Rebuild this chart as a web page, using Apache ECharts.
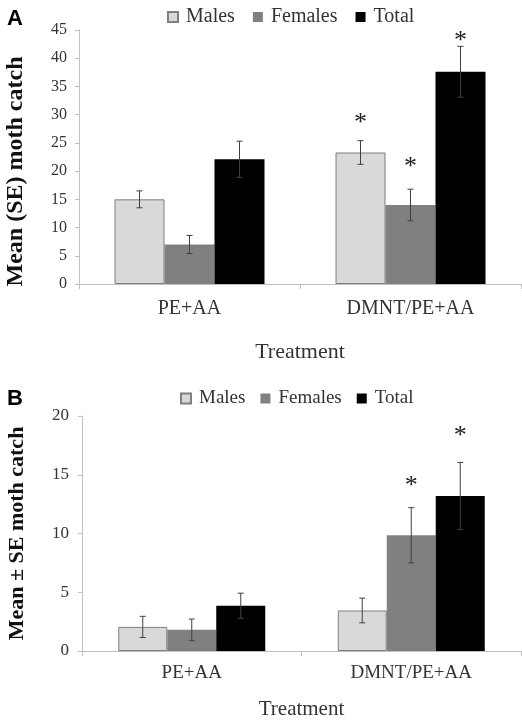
<!DOCTYPE html>
<html>
<head>
<meta charset="utf-8">
<script src="https://cdn.jsdelivr.net/npm/echarts@6/dist/echarts.min.js"></script>
<style>
html,body{margin:0;padding:0;background:#fff;}
#chart{width:522px;height:722px;}
</style>
</head>
<body>
<div id="chart"></div>
<script>
// ---- data ----
const categories = ['PE+AA', 'DMNT/PE+AA'];
const seriesNames = ['Males', 'Females', 'Total'];

// Panel A: Mean (SE) moth catch
const aMales = [15.0, 23.3];
const aMalesSE = [1.5, 2.1];
const aFemales = [7.0, 14.0];
const aFemalesSE = [1.6, 2.8];
const aTotal = [22.1, 37.6];
const aTotalSE = [3.2, 4.5];
// asterisk positions (value units), null = none
const aMalesStar = [null, 29.6];
const aFemalesStar = [null, 21.7];
const aTotalStar = [null, 44.1];
const aTicks = {min: 0, max: 45, interval: 5};

// Panel B: Mean ± SE moth catch
const bMales = [2.05, 3.45];
const bMalesSE = [0.9, 1.05];
const bFemales = [1.8, 9.85];
const bFemalesSE = [0.92, 2.35];
const bTotal = [3.85, 13.2];
const bTotalSE = [1.07, 2.85];
const bMalesStar = [null, null];
const bFemalesStar = [null, 14.5];
const bTotalStar = [null, 18.8];
const bTicks = {min: 0, max: 20, interval: 5};

// ---- styles ----
const colors = ['#d9d9d9', '#808080', '#000000'];
const borders = ['#7f7f7f', '#808080', '#000000'];
const serif = '"Liberation Serif", "Times New Roman", serif';
const axisGray = '#bfbfbf';
const textGray = '#333333';

function barSeries(name, idx, data, gi, bw) {
  return {
    name: name, type: 'bar', xAxisIndex: gi, yAxisIndex: gi,
    data: data, barWidth: bw, barGap: '0%',
    itemStyle: {color: colors[idx], borderColor: borders[idx], borderWidth: idx === 0 ? 1 : 0},
    emphasis: {disabled: true}, z: 2
  };
}

function errSeries(idx, vals, ses, stars, gi, bw) {
  const data = vals.map((v, i) => [i, v, ses[i], stars[i] == null ? -1 : stars[i]]);
  return {
    type: 'custom', xAxisIndex: gi, yAxisIndex: gi, z: 5, silent: true,
    encode: {x: 0, y: 1},
    data: data,
    renderItem: function (params, api) {
      const xi = api.value(0), v = api.value(1), se = api.value(2), st = api.value(3);
      const c = api.coord([xi, v]);
      const x = c[0] + (idx - 1) * bw;
      const top = api.coord([xi, v + se])[1];
      const bot = api.coord([xi, v - se])[1];
      const cap = 3;
      const style = {stroke: '#404040', lineWidth: 1};
      const children = [
        {type: 'line', shape: {x1: x, y1: top, x2: x, y2: bot}, style: style},
        {type: 'line', shape: {x1: x - cap, y1: top, x2: x + cap, y2: top}, style: style},
        {type: 'line', shape: {x1: x - cap, y1: bot, x2: x + cap, y2: bot}, style: style}
      ];
      if (st >= 0) {
        const sy = api.coord([xi, st])[1];
        children.push({type: 'text', x: x, y: sy + 6,
          style: {text: '*', fill: '#222', font: '26px ' + serif, align: 'center', verticalAlign: 'middle'}});
      }
      return {type: 'group', children: children};
    }
  };
}

function xAxis(gi, labelSize, labelMargin, nameSize, nameGap) {
  return {
    type: 'category', gridIndex: gi, data: categories,
    axisLine: {show: true, lineStyle: {color: axisGray, width: 1}},
    axisTick: {show: true, length: 5, lineStyle: {color: axisGray}},
    axisLabel: {fontFamily: serif, fontSize: labelSize, color: textGray, margin: labelMargin},
    name: 'Treatment', nameLocation: 'middle', nameGap: nameGap,
    nameTextStyle: {fontFamily: serif, fontSize: nameSize, color: textGray}
  };
}

function yAxis(gi, ticks, labelSize, labelMargin, name, nameSize, nameGap, namePad) {
  return {
    type: 'value', gridIndex: gi, min: ticks.min, max: ticks.max, interval: ticks.interval,
    splitLine: {show: false},
    axisLine: {show: true, lineStyle: {color: axisGray, width: 1}},
    axisTick: {show: true, length: 4, lineStyle: {color: axisGray}},
    axisLabel: {fontFamily: serif, fontSize: labelSize, color: textGray, margin: labelMargin},
    name: name, nameLocation: 'middle', nameGap: nameGap,
    nameTextStyle: {fontFamily: serif, fontSize: nameSize, fontWeight: 'bold', color: '#111', padding: namePad}
  };
}

const chart = echarts.init(document.getElementById('chart'), null, {renderer: 'canvas'});
chart.setOption({
  animation: false,
  backgroundColor: '#ffffff',
  grid: [
    {left: 79, top: 30, right: 1, height: 254, outerBoundsMode: 'none', containLabel: false},
    {left: 82, top: 416, right: 1, height: 235, outerBoundsMode: 'none', containLabel: false}
  ],
  legend: [
    {data: seriesNames.map(n => ({name: n})), left: 162, top: 2, itemWidth: 10, itemHeight: 10, itemGap: 18,
     icon: 'rect', selectedMode: false,
     textStyle: {fontFamily: serif, fontSize: 20, color: textGray, padding: [0, 0, 0, 3]}},
    {data: seriesNames.map(n => ({name: n + ' '})), left: 175, top: 384, itemWidth: 10, itemHeight: 10, itemGap: 15,
     icon: 'rect', selectedMode: false,
     formatter: n => n.trim(),
     textStyle: {fontFamily: serif, fontSize: 19, color: textGray, padding: [0, 0, 0, 3]}}
  ],
  xAxis: [xAxis(0, 20, 15, 22, 57), xAxis(1, 19, 13, 21, 48)],
  yAxis: [
    yAxis(0, aTicks, 16, 12, 'Mean (SE) moth catch', 24, 51, [0, 29, 0, 0]),
    yAxis(1, bTicks, 17, 13, 'Mean \u00B1 SE moth catch', 22, 54, [0, 0, 0, 0])
  ],
  graphic: [
    {type: 'text', left: 7, top: 8, style: {text: 'A', font: 'bold 22px "Liberation Sans", Arial, sans-serif', fill: '#000'}},
    {type: 'text', left: 7, top: 388, style: {text: 'B', font: 'bold 22px "Liberation Sans", Arial, sans-serif', fill: '#000'}}
  ],
  series: [
    barSeries('Males', 0, aMales, 0, 50),
    barSeries('Females', 1, aFemales, 0, 50),
    barSeries('Total', 2, aTotal, 0, 50),
    errSeries(0, aMales, aMalesSE, aMalesStar, 0, 50),
    errSeries(1, aFemales, aFemalesSE, aFemalesStar, 0, 50),
    errSeries(2, aTotal, aTotalSE, aTotalStar, 0, 50),
    barSeries('Males ', 0, bMales, 1, 49),
    barSeries('Females ', 1, bFemales, 1, 49),
    barSeries('Total ', 2, bTotal, 1, 49),
    errSeries(0, bMales, bMalesSE, bMalesStar, 1, 49),
    errSeries(1, bFemales, bFemalesSE, bFemalesStar, 1, 49),
    errSeries(2, bTotal, bTotalSE, bTotalStar, 1, 49)
  ]
});
</script>
</body>
</html>
